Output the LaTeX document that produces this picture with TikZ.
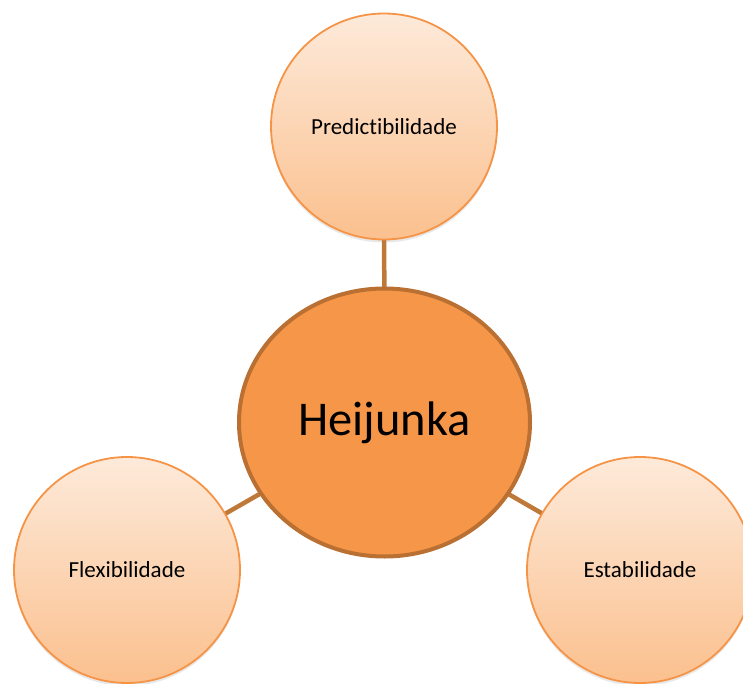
\documentclass[tikz,border=0pt]{standalone}
\usepackage{fontspec}
\setmainfont{Carlito}[Ligatures=NoCommon]
\usetikzlibrary{shapes.geometric,shadows,backgrounds}
\definecolor{petaltop}{RGB}{253,234,218}
\definecolor{petalbot}{RGB}{251,192,142}
\definecolor{petalrim}{RGB}{245,148,70}
\definecolor{hubfill}{RGB}{246,150,72}
\definecolor{hubrim}{RGB}{186,112,50}
\definecolor{linkcol}{RGB}{190,120,56}
\tikzset{
  petal/.style={circle, minimum size=226pt, inner sep=0pt, draw=petalrim, line width=1.8pt,
    top color=petaltop, bottom color=petalbot, font=\fontsize{23}{26}\selectfont,
    drop shadow={opacity=0.18, shadow xshift=0pt, shadow yshift=-3pt}},
  hub/.style={ellipse, minimum width=291pt, minimum height=268pt, inner sep=0pt,
    draw=hubrim, line width=4pt, fill=hubfill, font=\fontsize{48.5}{52}\selectfont},
  link/.style={draw=linkcol, line width=4.5pt}
}
\begin{document}
\begin{tikzpicture}[x=1pt,y=-1pt]
  \useasboundingbox (0,0) rectangle (743,684);
  \clip (0,0) rectangle (743,684);
  \node[petal] (pred) at (384,126.5) {Predictibilidade};
  \node[petal] (flex) at (127,570) {Flexibilidade};
  \node[petal] (esta) at (640,570) {Estabilidade};
  \node[hub] (heij) at (384.5,422.5) {Heijunka};
  \begin{scope}[on background layer]
    \draw[link] (heij.center) -- (pred.center);
    \draw[link] (heij.center) -- (flex.center);
    \draw[link] (heij.center) -- (esta.center);
  \end{scope}
\end{tikzpicture}
\end{document}
